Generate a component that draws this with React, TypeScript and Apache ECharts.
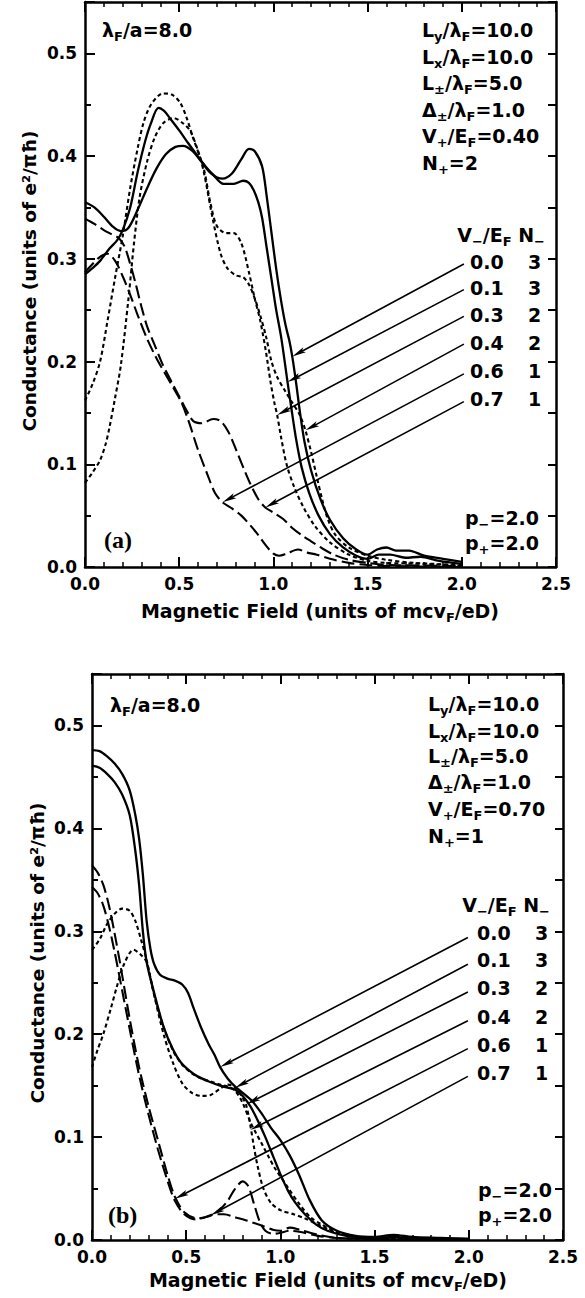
import React, { useEffect, useRef } from 'react';
import * as echarts from 'echarts';

// ---------------- data: panel (a) ----------------
const a_v00 = [[0,0.355],[0.05,0.35],[0.1,0.341],[0.15,0.331],[0.19,0.327],[0.23,0.33],[0.28,0.348],[0.33,0.369],[0.38,0.388],[0.43,0.402],[0.48,0.409],[0.52,0.41],[0.57,0.405],[0.62,0.394],[0.67,0.383],[0.73,0.378],[0.78,0.383],[0.83,0.397],[0.87,0.407],[0.9,0.405],[0.94,0.39],[0.965,0.36],[0.99,0.325],[1.015,0.29],[1.04,0.26],[1.065,0.235],[1.085,0.22],[1.1,0.205],[1.12,0.18],[1.14,0.152],[1.165,0.122],[1.2,0.094],[1.25,0.066],[1.3,0.046],[1.37,0.028],[1.44,0.017],[1.5,0.012],[1.55,0.017],[1.6,0.019],[1.65,0.016],[1.72,0.016],[1.8,0.011],[1.9,0.008],[2.0,0.005]];
const a_v01 = [[0,0.285],[0.04,0.291],[0.08,0.298],[0.13,0.31],[0.17,0.318],[0.2,0.328],[0.24,0.35],[0.28,0.385],[0.32,0.415],[0.35,0.432],[0.39,0.447],[0.42,0.444],[0.45,0.437],[0.5,0.425],[0.55,0.412],[0.59,0.402],[0.64,0.39],[0.68,0.382],[0.735,0.373],[0.79,0.373],[0.84,0.376],[0.87,0.374],[0.895,0.367],[0.92,0.355],[0.94,0.34],[0.965,0.31],[0.99,0.28],[1.015,0.25],[1.04,0.225],[1.06,0.2],[1.075,0.18],[1.095,0.155],[1.12,0.125],[1.15,0.097],[1.19,0.072],[1.24,0.05],[1.3,0.032],[1.37,0.019],[1.44,0.011],[1.5,0.008],[1.56,0.012],[1.62,0.012],[1.7,0.009],[1.78,0.01],[1.88,0.006],[2.0,0.003]];
const a_v03 = [[0,0.162],[0.04,0.178],[0.08,0.2],[0.12,0.24],[0.16,0.282],[0.2,0.322],[0.24,0.369],[0.28,0.408],[0.31,0.432],[0.35,0.45],[0.415,0.461],[0.46,0.46],[0.505,0.452],[0.54,0.437],[0.575,0.417],[0.63,0.388],[0.665,0.355],[0.7,0.332],[0.75,0.325],[0.79,0.325],[0.83,0.315],[0.87,0.287],[0.9,0.262],[0.93,0.24],[0.96,0.21],[0.985,0.18],[1.005,0.16],[1.02,0.148],[1.04,0.127],[1.07,0.1],[1.11,0.078],[1.16,0.058],[1.22,0.04],[1.3,0.024],[1.4,0.012],[1.5,0.006],[1.6,0.004],[1.8,0.003],[2.0,0.001]];
const a_v04 = [[0,0.082],[0.04,0.092],[0.08,0.104],[0.11,0.12],[0.13,0.136],[0.16,0.165],[0.19,0.196],[0.23,0.26],[0.26,0.315],[0.29,0.36],[0.33,0.395],[0.37,0.418],[0.415,0.432],[0.47,0.437],[0.52,0.432],[0.56,0.424],[0.6,0.405],[0.63,0.385],[0.68,0.337],[0.72,0.305],[0.755,0.291],[0.8,0.284],[0.84,0.282],[0.87,0.275],[0.9,0.262],[0.93,0.245],[0.96,0.225],[0.99,0.2],[1.02,0.185],[1.06,0.172],[1.1,0.16],[1.14,0.148],[1.17,0.133],[1.2,0.112],[1.23,0.088],[1.26,0.065],[1.29,0.046],[1.33,0.031],[1.4,0.019],[1.5,0.011],[1.6,0.007],[1.75,0.004],[2.0,0.002]];
const a_v06 = [[0,0.287],[0.04,0.295],[0.08,0.302],[0.12,0.305],[0.16,0.298],[0.2,0.283],[0.24,0.265],[0.28,0.245],[0.33,0.222],[0.38,0.203],[0.42,0.19],[0.47,0.174],[0.51,0.161],[0.55,0.142],[0.6,0.114],[0.65,0.09],[0.69,0.072],[0.73,0.063],[0.78,0.057],[0.83,0.05],[0.88,0.04],[0.92,0.031],[0.96,0.021],[1.0,0.013],[1.03,0.011],[1.07,0.013],[1.13,0.017],[1.18,0.014],[1.23,0.012],[1.3,0.008],[1.4,0.004],[1.5,0.002],[1.6,0.001],[2.0,0.0]];
const a_v07 = [[0,0.339],[0.05,0.334],[0.1,0.328],[0.14,0.324],[0.18,0.32],[0.21,0.312],[0.24,0.295],[0.27,0.275],[0.3,0.253],[0.33,0.234],[0.37,0.216],[0.41,0.198],[0.46,0.18],[0.5,0.166],[0.54,0.152],[0.575,0.142],[0.62,0.14],[0.68,0.144],[0.72,0.142],[0.76,0.132],[0.8,0.115],[0.84,0.097],[0.88,0.08],[0.92,0.066],[0.957,0.058],[1.0,0.053],[1.05,0.047],[1.1,0.038],[1.15,0.031],[1.2,0.025],[1.26,0.018],[1.32,0.012],[1.4,0.007],[1.5,0.004],[1.6,0.002],[2.0,0.001]];

// ---------------- data: panel (b) ----------------
const b_v00 = [[0,0.476],[0.04,0.475],[0.08,0.47],[0.12,0.463],[0.16,0.453],[0.2,0.437],[0.23,0.413],[0.25,0.39],[0.27,0.355],[0.29,0.31],[0.31,0.283],[0.33,0.268],[0.36,0.258],[0.4,0.254],[0.44,0.252],[0.48,0.248],[0.51,0.24],[0.54,0.225],[0.58,0.206],[0.62,0.19],[0.65,0.18],[0.68,0.168],[0.72,0.157],[0.76,0.149],[0.8,0.143],[0.85,0.135],[0.9,0.123],[0.95,0.109],[1.0,0.097],[1.05,0.082],[1.1,0.063],[1.155,0.039],[1.22,0.019],[1.3,0.009],[1.4,0.004],[1.5,0.003],[1.6,0.005],[1.7,0.003],[1.85,0.002],[2.0,0.001]];
const b_v01 = [[0,0.461],[0.04,0.459],[0.08,0.453],[0.12,0.445],[0.16,0.433],[0.2,0.413],[0.23,0.378],[0.25,0.345],[0.27,0.3],[0.29,0.27],[0.33,0.24],[0.38,0.207],[0.43,0.185],[0.47,0.173],[0.52,0.164],[0.56,0.159],[0.62,0.154],[0.68,0.15],[0.72,0.148],[0.76,0.146],[0.8,0.14],[0.84,0.13],[0.88,0.116],[0.92,0.1],[0.96,0.082],[1.0,0.064],[1.04,0.048],[1.08,0.036],[1.13,0.025],[1.19,0.015],[1.25,0.009],[1.35,0.004],[1.5,0.002],[1.6,0.003],[1.7,0.002],[2.0,0.001]];
const b_v03 = [[0,0.282],[0.04,0.292],[0.08,0.307],[0.12,0.317],[0.16,0.322],[0.2,0.32],[0.23,0.31],[0.26,0.292],[0.29,0.272],[0.33,0.238],[0.38,0.2],[0.43,0.172],[0.48,0.152],[0.53,0.143],[0.58,0.14],[0.63,0.141],[0.68,0.147],[0.72,0.151],[0.76,0.148],[0.8,0.138],[0.82,0.13],[0.84,0.112],[0.86,0.09],[0.88,0.071],[0.91,0.05],[0.95,0.036],[1.0,0.029],[1.07,0.025],[1.13,0.021],[1.2,0.015],[1.3,0.007],[1.4,0.003],[1.6,0.001],[2.0,0.0]];
const b_v04 = [[0,0.168],[0.03,0.185],[0.06,0.2],[0.1,0.225],[0.13,0.245],[0.17,0.268],[0.22,0.282],[0.26,0.277],[0.29,0.27],[0.33,0.238],[0.38,0.207],[0.43,0.184],[0.48,0.17],[0.53,0.162],[0.58,0.157],[0.63,0.154],[0.68,0.151],[0.72,0.149],[0.76,0.145],[0.8,0.133],[0.84,0.115],[0.87,0.104],[0.9,0.094],[0.94,0.08],[0.97,0.07],[1.04,0.051],[1.1,0.035],[1.16,0.022],[1.21,0.016],[1.31,0.007],[1.45,0.002],[2.0,0.0]];
const b_v06 = [[0,0.364],[0.03,0.357],[0.06,0.345],[0.09,0.325],[0.12,0.298],[0.15,0.268],[0.2,0.215],[0.25,0.168],[0.3,0.13],[0.35,0.097],[0.4,0.064],[0.44,0.042],[0.49,0.027],[0.56,0.021],[0.62,0.023],[0.67,0.028],[0.72,0.038],[0.76,0.05],[0.8,0.057],[0.83,0.052],[0.86,0.035],[0.89,0.018],[0.92,0.009],[0.96,0.006],[1.0,0.007],[1.05,0.009],[1.1,0.008],[1.2,0.004],[1.3,0.002],[1.5,0.001],[2.0,0.0]];
const b_v07 = [[0,0.343],[0.03,0.337],[0.06,0.325],[0.09,0.305],[0.12,0.28],[0.15,0.252],[0.2,0.205],[0.25,0.16],[0.3,0.122],[0.35,0.088],[0.4,0.058],[0.44,0.038],[0.49,0.025],[0.55,0.02],[0.6,0.022],[0.65,0.025],[0.7,0.025],[0.76,0.022],[0.82,0.019],[0.9,0.014],[0.96,0.01],[1.0,0.009],[1.05,0.012],[1.1,0.01],[1.2,0.005],[1.3,0.002],[1.5,0.001],[2.0,0.0]];

// legend-table labels
const vMinusLabels = ['0.0', '0.1', '0.3', '0.4', '0.6', '0.7'];
const nMinusLabels = ['3', '3', '2', '2', '1', '1'];
const lineKinds = ['solid', 'solid', 'short', 'short', 'long', 'long'];

// arrows: [label x, label y, tip x, tip y] in data units
const arrowsA = [[2.011,0.295,1.1,0.205],[2.011,0.27,1.075,0.18],[2.011,0.244,1.02,0.148],[2.011,0.217,1.17,0.133],[2.011,0.188,0.73,0.063],[2.011,0.161,0.957,0.058]];
const arrowsB = [[1.995,0.294,0.68,0.168],[1.995,0.268,0.76,0.148],[1.995,0.241,0.82,0.132],[1.995,0.213,0.84,0.107],[1.995,0.186,0.44,0.04],[1.995,0.159,0.63,0.024]];

const paramsA = ['L{s|y}/λ{s|F}=10.0', 'L{s|x}/λ{s|F}=10.0', 'L{s|±}/λ{s|F}=5.0', 'Δ{s|±}/λ{s|F}=1.0', 'V{s|+}/E{s|F}=0.40', 'N{s|+}=2'];
const paramsB = ['L{s|y}/λ{s|F}=10.0', 'L{s|x}/λ{s|F}=10.0', 'L{s|±}/λ{s|F}=5.0', 'Δ{s|±}/λ{s|F}=1.0', 'V{s|+}/E{s|F}=0.70', 'N{s|+}=1'];
const pLabels = ['p{s|−}=2.0', 'p{s|+}=2.0'];

const FONT = '"DejaVu Sans", Verdana, sans-serif';
const SERIF = '"Liberation Serif", "DejaVu Serif", serif';

const RICH = {
  s: { fontFamily: FONT, fontWeight: 'bold', fontSize: 13, lineHeight: 14, padding: [12, 0, 0, 0], fill: '#000', color: '#000' },
};

function txt(x: number, y: number, text: string, o: any = {}) {
  return {
    type: 'text', x, y, silent: true, rotation: o.rotation || 0,
    style: {
      text, fontFamily: o.family || FONT, fontWeight: 'bold', fontSize: o.size || 19, lineHeight: 26,
      fill: '#000', align: o.align || 'left', verticalAlign: 'middle', rich: RICH,
    },
  };
}

const panels = [
  {
    curves: [a_v00, a_v01, a_v03, a_v04, a_v06, a_v07], arrows: arrowsA, params: paramsA,
    grid: { left: 85, top: 2, width: 471, height: 565 },
    yTitle: [29, 281], xTitle: [320, 611], lam: [102, 30], paramX: 422, paramY: [30, 57, 83, 110, 136, 163],
    headRight: 545, headY: 235, rowX: 470, nX: 528, rowY: [262, 288, 315, 343, 371, 399], pX: 465, pY: [518, 543],
    tag: '(a)', tagPos: [104, 540],
  },
  {
    curves: [b_v00, b_v01, b_v03, b_v04, b_v06, b_v07], arrows: arrowsB, params: paramsB,
    grid: { left: 92, top: 674, width: 471, height: 566 },
    yTitle: [37, 953], xTitle: [328, 1280], lam: [110, 705], paramX: 428, paramY: [704, 731, 756, 782, 809, 836],
    headRight: 550, headY: 905, rowX: 477, nX: 535, rowY: [933, 960, 988, 1017, 1045, 1073], pX: 478, pY: [1190, 1215],
    tag: '(b)', tagPos: [108, 1215],
  },
];

function lineStyleFor(kind: string) {
  if (kind === 'solid') return { type: 'solid', width: 2.3 };
  if (kind === 'short') return { type: [4, 3], width: 2.1 };
  return { type: [13, 5], width: 2.1 };
}

function buildOption() {
  const grid: any[] = [];
  const xAxis: any[] = [];
  const yAxis: any[] = [];
  const series: any[] = [];
  const elements: any[] = [];
  const labelStyle = { fontFamily: FONT, fontWeight: 'bold', fontSize: 17, color: '#000' };

  panels.forEach((p, gi) => {
    grid.push({ ...p.grid, containLabel: false, outerBoundsMode: 'none' });
    const xBase = {
      gridIndex: gi, type: 'value', min: 0, max: 2.5, interval: 0.5,
      axisLine: { show: true, onZero: false, lineStyle: { color: '#000', width: 2.5 } },
      axisTick: { show: true, inside: true, length: 10, lineStyle: { color: '#000', width: 2 } },
      minorTick: { show: true, splitNumber: 5, length: 5, lineStyle: { color: '#000', width: 1.5 } },
      splitLine: { show: false }, minorSplitLine: { show: false },
    };
    xAxis.push({ ...xBase, position: 'bottom', axisLabel: { ...labelStyle, margin: 8, formatter: (v: number) => v.toFixed(1) } });
    xAxis.push({ ...xBase, position: 'top', axisLabel: { show: false } });
    const yBase = {
      gridIndex: gi, type: 'value', min: 0, max: 0.55,
      splitLine: { show: false },
    };
    yAxis.push({
      ...yBase, position: 'left', interval: 0.1,
      axisLine: { show: true, onZero: false, lineStyle: { color: '#000', width: 2.5 } },
      axisTick: { show: true, inside: true, length: 10, lineStyle: { color: '#000', width: 2 } },
      axisLabel: { ...labelStyle, margin: 8, formatter: (v: number) => (v > 0.501 ? '' : v.toFixed(1)) },
    });
    yAxis.push({
      ...yBase, position: 'right', interval: 0.05,
      axisLine: { show: true, onZero: false, lineStyle: { color: '#000', width: 2.5 } },
      axisTick: { show: true, inside: true, length: 8, lineStyle: { color: '#000', width: 2 } },
      axisLabel: { show: false },
    });
    yAxis.push({
      ...yBase, position: 'left', interval: 0.05,
      axisLine: { show: false },
      axisTick: { show: true, inside: true, length: 6, lineStyle: { color: '#000', width: 2 } },
      axisLabel: { show: false },
    });

    p.curves.forEach((data, i) => {
      series.push({
        type: 'line', name: `${gi}-${vMinusLabels[i]}`, xAxisIndex: gi * 2, yAxisIndex: gi * 3,
        data, symbol: 'none', showSymbol: false, smooth: 0.3, silent: true,
        lineStyle: { color: '#000', ...lineStyleFor(lineKinds[i]) }, z: 3,
      });
    });

    series.push({
      type: 'custom', xAxisIndex: gi * 2, yAxisIndex: gi * 3, coordinateSystem: 'cartesian2d',
      data: p.arrows, encode: { x: [0, 2], y: [1, 3] }, silent: true, z: 4,
      renderItem: (_params: any, api: any) => {
        const p1 = api.coord([api.value(0), api.value(1)]);
        const p2 = api.coord([api.value(2), api.value(3)]);
        const ang = Math.atan2(p2[1] - p1[1], p2[0] - p1[0]);
        const L = 14, W = 2.8;
        const c = Math.cos(ang), s = Math.sin(ang);
        const bx = p2[0] - L * c, by = p2[1] - L * s;
        return {
          type: 'group',
          children: [
            { type: 'line', shape: { x1: p1[0], y1: p1[1], x2: bx + 3 * c, y2: by + 3 * s }, style: { stroke: '#000', lineWidth: 1.6 } },
            { type: 'polygon', shape: { points: [[p2[0], p2[1]], [bx + W * s, by - W * c], [bx + 3 * c, by + 3 * s], [bx - W * s, by + W * c]] }, style: { fill: '#000' } },
          ],
        };
      },
    });

    // texts
    elements.push(txt(p.yTitle[0], p.yTitle[1], 'Conductance (units of e²/πħ)', { align: 'center', rotation: Math.PI / 2, size: 18.5 }));
    elements.push(txt(p.xTitle[0], p.xTitle[1], 'Magnetic Field (units of mcv{s|F}/eD)', { align: 'center', size: 19 }));
    elements.push(txt(p.lam[0], p.lam[1], 'λ{s|F}/a=8.0'));
    p.params.forEach((t, i) => elements.push(txt(p.paramX, p.paramY[i], t)));
    elements.push(txt(p.headRight, p.headY, 'V{s|−}/E{s|F} N{s|−}', { align: 'right' }));
    vMinusLabels.forEach((t, i) => {
      elements.push(txt(p.rowX, p.rowY[i], t));
      elements.push(txt(p.nX, p.rowY[i], nMinusLabels[i]));
    });
    pLabels.forEach((t, i) => elements.push(txt(p.pX, p.pY[i], t)));
    elements.push(txt(p.tagPos[0], p.tagPos[1], p.tag, { family: SERIF, size: 24 }));
  });

  return {
    animation: false,
    backgroundColor: '#fff',
    grid, xAxis, yAxis, series,
    graphic: { elements },
  };
}

export default function App() {
  const ref = useRef<HTMLDivElement>(null);
  useEffect(() => {
    document.body.style.margin = '0';
    if (!ref.current) return;
    const chart = echarts.init(ref.current, undefined, { renderer: 'svg' });
    chart.setOption(buildOption() as any);
    return () => chart.dispose();
  }, []);
  return <div ref={ref} style={{ width: 585, height: 1298 }} />;
}
